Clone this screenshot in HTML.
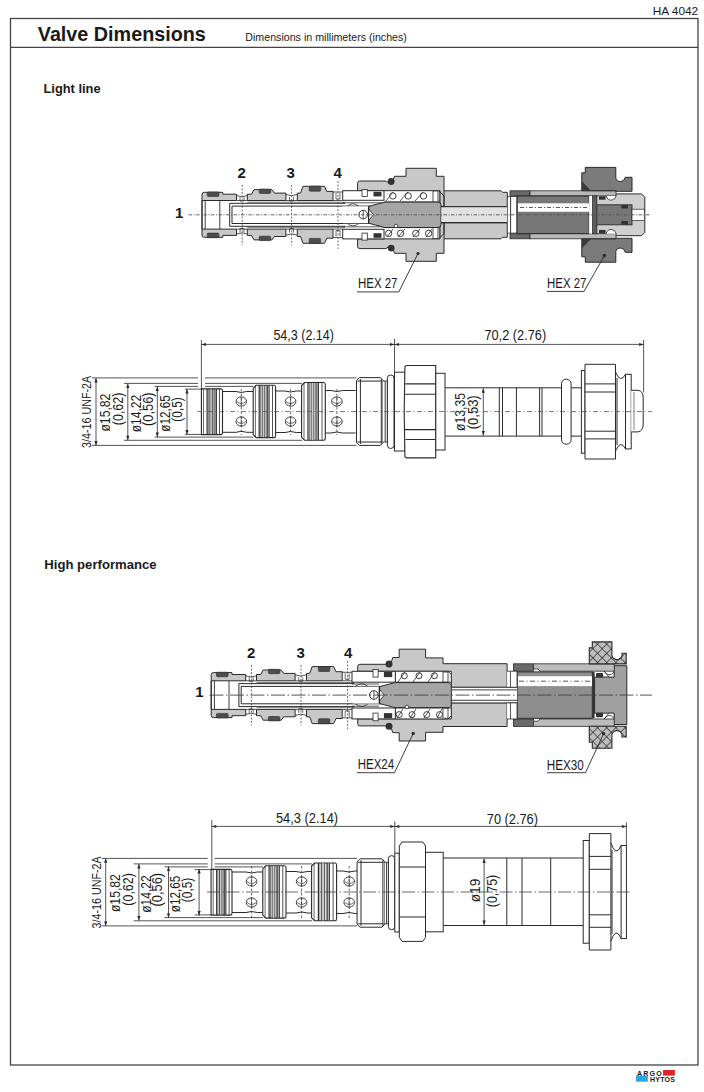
<!DOCTYPE html>
<html><head><meta charset="utf-8">
<style>
html,body{margin:0;padding:0;background:#fff;width:704px;height:1092px;overflow:hidden}
svg{position:absolute;left:0;top:0;display:block}
text{font-family:"Liberation Sans",sans-serif;fill:#1a1a1a}
</style></head><body>
<svg width="704" height="1092" viewBox="0 0 704 1092">
<!-- frame -->
<rect x="10.5" y="18.5" width="687.5" height="1046.5" fill="none" stroke="#444" stroke-width="1.3"/>
<line x1="10" y1="47.3" x2="698" y2="47.3" stroke="#444" stroke-width="1.3"/>
<text x="652.8" y="14.9" font-size="11" textLength="45.4" lengthAdjust="spacingAndGlyphs">HA 4042</text>
<text x="37.8" y="40.9" font-size="20" font-weight="bold" textLength="168" lengthAdjust="spacingAndGlyphs">Valve Dimensions</text>
<text x="245.3" y="41.25" font-size="11" textLength="161.6" lengthAdjust="spacingAndGlyphs">Dimensions in millimeters (inches)</text>
<text x="43.5" y="92.9" font-size="12.5" font-weight="bold" textLength="57.1" lengthAdjust="spacingAndGlyphs">Light line</text>
<text x="44.3" y="568.9" font-size="12.5" font-weight="bold" textLength="112.3" lengthAdjust="spacingAndGlyphs">High performance</text>
<!-- ===== D1 cross-section (light line) ===== -->
<g id="d1left">
 <!-- top half of left cartridge, mirrored below -->
 <g id="d1lt">
  <!-- collar -->
  <path d="M202,214.8 V194.5 Q202,192.3 204.2,192.3 H222.8 V194.2 H236.5 V200.5 H202 Z" fill="#c8c8c8" stroke="#2a2a2a" stroke-width="1"/>
  <rect x="207.3" y="191.9" width="11.6" height="4.6" rx="1" fill="#4d4d4d" stroke="#2a2a2a" stroke-width="0.6"/>
  <!-- section 3 -->
  <path d="M247.3,200.5 V194.2 H251.5 L254,189.7 H272 L274.5,193.1 H285.9 V200.5 Z" fill="#c8c8c8" stroke="#2a2a2a" stroke-width="1"/>
  <rect x="259.2" y="189" width="11.4" height="4.4" rx="1" fill="#4d4d4d" stroke="#2a2a2a" stroke-width="0.6"/>
  <!-- section 4 -->
  <path d="M297.3,200.5 V193.1 H300.5 L303,186.3 H324.5 L326.8,191.4 H333 V200.5 Z" fill="#c8c8c8" stroke="#2a2a2a" stroke-width="1"/>
  <rect x="309.2" y="186.2" width="11.4" height="5" rx="1" fill="#4d4d4d" stroke="#2a2a2a" stroke-width="0.6"/>
  <!-- ports (white notches) -->
  <path d="M236.5,195.5 Q242,198 247.3,195.5 M236.5,200.5 H247.3 M285.9,194.5 Q291.6,197 297.3,194.5 M285.9,200.5 H297.3 M333,192 H342.7 M333,200.5 H342.7" fill="none" stroke="#2a2a2a" stroke-width="0.8"/>
  <path d="M240,197 V201 H244 V197 M289.5,197 V201 H293.5 V197 M336,193 V199 H340 V193" fill="none" stroke="#2a2a2a" stroke-width="0.7"/>
  <!-- inner lines -->
  <line x1="205.2" y1="200.5" x2="205.2" y2="214.8" stroke="#2a2a2a" stroke-width="0.9"/>
  <line x1="219.8" y1="200.5" x2="219.8" y2="214.8" stroke="#2a2a2a" stroke-width="0.9"/>
  <path d="M229.7,214.8 V203.3 H345" fill="none" stroke="#2a2a2a" stroke-width="1"/>
  <path d="M232,214.8 V206.1 H372" fill="none" stroke="#2a2a2a" stroke-width="1"/>
  <line x1="247.3" y1="202.2" x2="345" y2="202.2" stroke="#2a2a2a" stroke-width="0.6"/>
 </g>
 <use href="#d1lt" transform="translate(0,429.6) scale(1,-1)"/>
</g>
<g id="d1right">
 <path d="M596.5,193.9 H641.5 L644.8,197.2 V232.4 L641.5,235.7 H596.5 Z" fill="#cfcfcf" stroke="#2a2a2a" stroke-width="1"/>
 <rect x="596.5" y="204.8" width="35.5" height="20" fill="#777" stroke="#2a2a2a" stroke-width="0.9"/>
 <rect x="621.5" y="205.5" width="6.5" height="3" fill="#333"/>
 <rect x="621.5" y="221" width="6.5" height="3" fill="#333"/>
 <rect x="632" y="209.2" width="12.3" height="11.2" fill="#fff" stroke="#2a2a2a" stroke-width="0.7"/>
 <g id="d1rt">
  <!-- tube light -->
  <path d="M444,190.8 H501 L502.5,192.3 H507.3 V206.7 H440 V190.8 Z" fill="#c8c8c8" stroke="#2a2a2a" stroke-width="1"/>
  <!-- hex body -->
  <path d="M357.6,190.7 V183.2 Q357.6,181 359.8,181 H386 Q391.7,187 394.5,176.3 H406 V168.3 H436.3 V176.3 H444 V206.7 H440 V190.7 Z" fill="#c8c8c8" stroke="#2a2a2a" stroke-width="1"/>
  <circle cx="391.2" cy="181.5" r="3.4" fill="#333"/>
  <!-- retainer sleeve -->
  <rect x="342.7" y="190.7" width="41.3" height="9.6" fill="#fff" stroke="#2a2a2a" stroke-width="1"/>
  <rect x="362" y="189.5" width="5.3" height="7" fill="#fff" stroke="#2a2a2a" stroke-width="0.8"/>
  <rect x="373.5" y="191.8" width="8" height="4.6" fill="#333"/>
  <path d="M342.7,202.8 H384 M347,206.4 Q353,201 359,206.4" fill="none" stroke="#2a2a2a" stroke-width="0.8"/>
  <!-- spring chamber -->
  <line x1="384" y1="202" x2="440" y2="202" stroke="#2a2a2a" stroke-width="0.8"/>
  <rect x="433" y="191" width="5" height="11" fill="#fff" stroke="#2a2a2a" stroke-width="0.8"/>
  <!-- bands -->
  <rect x="510" y="190.8" width="20" height="5.1" fill="#6a6a6a" stroke="#2a2a2a" stroke-width="0.8"/>
  <rect x="530" y="190.8" width="86" height="5.1" fill="#b8b8b8" stroke="#2a2a2a" stroke-width="0.8"/>
  <rect x="599" y="196.3" width="6.5" height="3.4" fill="#333"/>
  <path d="M606,195.9 Q608,201 612,200 Q616,199 616,195.9" fill="#fff" stroke="#2a2a2a" stroke-width="0.8"/>
  <rect x="621.5" y="205" width="6.5" height="3" fill="#333"/>
  <!-- nut -->
  <path d="M581.8,190.7 V172.8 H585.3 V167.4 H615.8 V178 A4.8,4.8 0 0 0 625.2,177.3 H632 V191.3 H616 V190.7 Z" fill="#7b7b7b" stroke="#2a2a2a" stroke-width="1"/>
  <path d="M581.8,181 V190.7 H591 Z" fill="#3a3a3a"/>
 </g>
 <use href="#d1rt" transform="translate(0,429.6) scale(1,-1)"/>
 <!-- full (non-mirrored) pieces -->
 <rect x="507.3" y="196.5" width="3.4" height="36.6" fill="#fff" stroke="#2a2a2a" stroke-width="0.7"/>
 <rect x="510.7" y="196.5" width="6.3" height="36.6" fill="#fff" stroke="#2a2a2a" stroke-width="0.8"/>
 <rect x="517" y="196" width="72.2" height="37.6" fill="#777" stroke="#2a2a2a" stroke-width="1"/>
 <rect x="518" y="203.3" width="71" height="8.5" fill="#fff"/>
 <rect x="589.2" y="196" width="3.2" height="37.6" fill="#fff"/>
 <rect x="592.4" y="195.8" width="4.5" height="38" fill="#5e5e5e" stroke="#2a2a2a" stroke-width="0.7"/>
 <!-- ball holder + piston -->
 <rect x="342.7" y="206.4" width="25.9" height="16.8" fill="#fff"/>
 <path d="M368.6,206.4 L384.8,202.1 H438 Q441,202.1 441,205 V224.6 Q441,227.5 438,227.5 H384.8 L368.6,223.2 Z" fill="#a6a6a6" stroke="#2a2a2a" stroke-width="1"/>
 <path d="M368.6,208.8 L373.4,214.8 L368.6,220.6" fill="#fff" stroke="#2a2a2a" stroke-width="0.8"/>
 <line x1="368.6" y1="206.4" x2="368.6" y2="223.2" stroke="#2a2a2a" stroke-width="1.3"/>
 <circle cx="363.2" cy="214.6" r="4.3" fill="#fff" stroke="#2a2a2a" stroke-width="1"/>
 <line x1="363.2" y1="211" x2="363.2" y2="218.4" stroke="#2a2a2a" stroke-width="0.8"/>
 <!-- bore -->
 <rect x="441.5" y="207.2" width="65.5" height="14.6" fill="#e2e2e2"/>
 <path d="M441,206.7 H507.3 M441,222.5 H507.3" stroke="#2a2a2a" stroke-width="1" fill="none"/>
 <path d="M439.1,191 L444,196 V206.7 M439.1,238.5 L444,233.5 V222.5" stroke="#2a2a2a" stroke-width="1" fill="none"/>
 <!-- springs -->
 <g fill="#fff" stroke="#2a2a2a" stroke-width="0.9">
   <circle cx="388.6" cy="233.4" r="3.2"/><circle cx="400.5" cy="233.4" r="3.2"/><circle cx="415.8" cy="233.4" r="3.2"/><circle cx="428.6" cy="233.4" r="3.2"/>
   <circle cx="392.8" cy="195.9" r="3.2"/><circle cx="408.2" cy="195.9" r="3.2"/><circle cx="423.5" cy="195.9" r="3.2"/>
 </g>
 <path d="M386,201 L393,192 M400,201 L408,192 M415,201 L423,192 M387,237 L393,229 M398,237 L405,229 M413,237 L420,229 M426,237 L432,229" stroke="#2a2a2a" stroke-width="0.8" fill="none"/>
 <circle cx="396" cy="226" r="1.8" fill="#fff" stroke="#2a2a2a" stroke-width="0.8"/>
</g>
<!-- center line d1 -->
<line x1="188.5" y1="214.8" x2="650" y2="214.8" stroke="#555" stroke-width="0.9" stroke-dasharray="3.5 1.5 1 1.5"/>
<line x1="520" y1="207.5" x2="589" y2="207.5" stroke="#444" stroke-width="0.9" stroke-dasharray="4 2 1 2"/>
<!-- port dashed lines -->
<g stroke="#444" stroke-width="0.8" stroke-dasharray="2 1.5">
 <line x1="242.2" y1="184.9" x2="242.2" y2="245.2"/>
 <line x1="291.6" y1="184.9" x2="291.6" y2="245.2"/>
 <line x1="338" y1="181" x2="338" y2="249"/>
</g>
<!-- labels -->
<g font-weight="bold" font-size="15">
 <text x="175" y="217.8">1</text>
 <text x="237.6" y="177.9">2</text>
 <text x="286.6" y="177.9">3</text>
 <text x="333.5" y="177.9">4</text>
</g>
<!-- HEX labels -->
<text x="358" y="288" font-size="14.3" textLength="39.5" lengthAdjust="spacingAndGlyphs">HEX 27</text>
<path d="M357,291.9 H398.8 L418,253.5" fill="none" stroke="#2a2a2a" stroke-width="0.9"/>
<circle cx="418" cy="253.5" r="1.6" fill="#2a2a2a"/>
<text x="547" y="288" font-size="14.3" textLength="39.5" lengthAdjust="spacingAndGlyphs">HEX 27</text>
<path d="M547,291.4 H584 L604.4,255.6" fill="none" stroke="#2a2a2a" stroke-width="0.9"/>
<circle cx="604.4" cy="255.6" r="1.8" fill="#2a2a2a"/>
<!-- ===== D2 ===== -->
<line x1="92" y1="377.9" x2="198" y2="377.9" stroke="#2a2a2a" stroke-width="0.8"/><line x1="205" y1="377.9" x2="356.5" y2="377.9" stroke="#2a2a2a" stroke-width="0.8"/>
<line x1="124" y1="383.4" x2="198" y2="383.4" stroke="#2a2a2a" stroke-width="0.8"/><line x1="205" y1="383.4" x2="302" y2="383.4" stroke="#2a2a2a" stroke-width="0.8"/>
<line x1="154.7" y1="386.4" x2="198" y2="386.4" stroke="#2a2a2a" stroke-width="0.8"/><line x1="205" y1="386.4" x2="253.5" y2="386.4" stroke="#2a2a2a" stroke-width="0.8"/>
<line x1="92" y1="445.4" x2="356.5" y2="445.4" stroke="#2a2a2a" stroke-width="0.8"/>
<line x1="124" y1="440.3" x2="302" y2="440.3" stroke="#2a2a2a" stroke-width="0.8"/>
<line x1="154.7" y1="437.1" x2="253.5" y2="437.1" stroke="#2a2a2a" stroke-width="0.8"/>
<line x1="185" y1="389.1" x2="201.4" y2="389.1" stroke="#2a2a2a" stroke-width="0.8"/><line x1="185" y1="434.4" x2="201.4" y2="434.4" stroke="#2a2a2a" stroke-width="0.8"/>
<line x1="96" y1="377.9" x2="96" y2="445.4" stroke="#2a2a2a" stroke-width="0.8"/><path d="M96,377.9 L94.4,382.4 L97.6,382.4 Z M96,445.4 L94.4,440.9 L97.6,440.9 Z" fill="#2a2a2a"/>
<line x1="127.8" y1="383.4" x2="127.8" y2="440.3" stroke="#2a2a2a" stroke-width="0.8"/><path d="M127.8,383.4 L126.2,387.9 L129.4,387.9 Z M127.8,440.3 L126.2,435.8 L129.4,435.8 Z" fill="#2a2a2a"/>
<line x1="157.3" y1="386.4" x2="157.3" y2="437.1" stroke="#2a2a2a" stroke-width="0.8"/><path d="M157.3,386.4 L155.70000000000002,390.9 L158.9,390.9 Z M157.3,437.1 L155.70000000000002,432.6 L158.9,432.6 Z" fill="#2a2a2a"/>
<line x1="187" y1="389.1" x2="187" y2="434.4" stroke="#2a2a2a" stroke-width="0.8"/><path d="M187,389.1 L185.4,393.6 L188.6,393.6 Z M187,434.4 L185.4,429.9 L188.6,429.9 Z" fill="#2a2a2a"/>
<text transform="translate(91.4,411.9) rotate(-90)" font-size="13.3" text-anchor="middle" textLength="72" lengthAdjust="spacingAndGlyphs">3/4-16 UNF-2A</text>
<text transform="translate(110.2,412.6) rotate(-90)" font-size="14.8" text-anchor="middle" textLength="38" lengthAdjust="spacingAndGlyphs">ø15,82</text>
<text transform="translate(123.3,408.9) rotate(-90)" font-size="14.8" text-anchor="middle" textLength="32.5" lengthAdjust="spacingAndGlyphs">(0,62)</text>
<text transform="translate(141,413.6) rotate(-90)" font-size="14.8" text-anchor="middle" textLength="37.5" lengthAdjust="spacingAndGlyphs">ø14,22</text>
<text transform="translate(152.7,409.2) rotate(-90)" font-size="14.8" text-anchor="middle" textLength="33.5" lengthAdjust="spacingAndGlyphs">(0,56)</text>
<text transform="translate(169.8,413.5) rotate(-90)" font-size="14.8" text-anchor="middle" textLength="36.5" lengthAdjust="spacingAndGlyphs">ø12,65</text>
<text transform="translate(182.1,409.4) rotate(-90)" font-size="14.8" text-anchor="middle" textLength="24.5" lengthAdjust="spacingAndGlyphs">(0,5)</text>
<line x1="201.4" y1="340" x2="201.4" y2="389" stroke="#2a2a2a" stroke-width="0.8"/>
<line x1="394.5" y1="338.8" x2="394.5" y2="372.2" stroke="#2a2a2a" stroke-width="0.8"/>
<line x1="643.6" y1="340" x2="643.6" y2="392.4" stroke="#2a2a2a" stroke-width="0.8"/>
<line x1="201.4" y1="344.4" x2="394.5" y2="344.4" stroke="#2a2a2a" stroke-width="0.8"/><path d="M201.4,344.4 L205.9,342.9 L205.9,345.9 Z M394.5,344.4 L390.0,342.9 L390.0,345.9 Z" fill="#2a2a2a"/>
<line x1="394.5" y1="344.4" x2="643.6" y2="344.4" stroke="#2a2a2a" stroke-width="0.8"/><path d="M394.5,344.4 L399.0,342.9 L399.0,345.9 Z M643.6,344.4 L639.1,342.9 L639.1,345.9 Z" fill="#2a2a2a"/>
<text x="273.4" y="339.8" font-size="14" textLength="60.5" lengthAdjust="spacingAndGlyphs">54,3 (2.14)</text>
<text x="484.4" y="339.6" font-size="14" textLength="61.8" lengthAdjust="spacingAndGlyphs">70,2 (2.76)</text>
<path d="M222.5,391.5 H236 Q241.3,393.5 246.6,391.5 H253.2 M222.5,432.3 H236 Q241.3,430.3 246.6,432.3 H253.2" fill="none" stroke="#2a2a2a" stroke-width="1"/>
<path d="M275.6,391 H285 Q290.6,393 296.2,391 H301.6 M275.6,432.5 H285 Q290.6,430.5 296.2,432.5 H301.6" fill="none" stroke="#2a2a2a" stroke-width="1"/>
<path d="M325.3,390.5 H331 Q336.9,392.5 342.8,390.5 H355.6 M325.3,433 H331 Q336.9,431 342.8,433 H355.6" fill="none" stroke="#2a2a2a" stroke-width="1"/>
<path d="M201.4,388.9 L201.4,388.9 H221.0 Q222.5,388.9 222.5,390.9 V432.6 Q222.5,434.6 221.0,434.6 H201.4 L201.4,434.6 Z" fill="#fff" stroke="#2a2a2a" stroke-width="1.1"/><rect x="209.8" y="389.4" width="2.5" height="44.700000000000045" fill="#cdcdcd"/><rect x="214.9" y="389.4" width="1.5" height="44.700000000000045" fill="#cdcdcd"/><line x1="203.5" y1="388.9" x2="203.5" y2="434.6" stroke="#2a2a2a" stroke-width="0.7"/><line x1="207.1" y1="388.9" x2="207.1" y2="434.6" stroke="#2a2a2a" stroke-width="1.2"/><line x1="208.4" y1="388.9" x2="208.4" y2="434.6" stroke="#2a2a2a" stroke-width="0.6"/><line x1="209.8" y1="388.9" x2="209.8" y2="434.6" stroke="#2a2a2a" stroke-width="0.8"/><line x1="212.4" y1="388.9" x2="212.4" y2="434.6" stroke="#2a2a2a" stroke-width="0.8"/><line x1="213.8" y1="388.9" x2="213.8" y2="434.6" stroke="#2a2a2a" stroke-width="0.6"/><line x1="214.9" y1="388.9" x2="214.9" y2="434.6" stroke="#2a2a2a" stroke-width="0.8"/><line x1="216.4" y1="388.9" x2="216.4" y2="434.6" stroke="#2a2a2a" stroke-width="1.0"/><line x1="219.5" y1="388.9" x2="219.5" y2="434.6" stroke="#2a2a2a" stroke-width="0.8"/>
<path d="M253.2,388.3 L256.2,385.3 H274.1 Q275.6,385.3 275.6,387.3 V435.6 Q275.6,437.6 274.1,437.6 H256.2 L253.2,434.6 Z" fill="#fff" stroke="#2a2a2a" stroke-width="1.1"/><rect x="262.2" y="385.8" width="2.7" height="51.30000000000001" fill="#cdcdcd"/><rect x="267.5" y="385.8" width="1.6" height="51.30000000000001" fill="#cdcdcd"/><line x1="255.4" y1="385.3" x2="255.4" y2="437.6" stroke="#2a2a2a" stroke-width="0.7"/><line x1="259.2" y1="385.3" x2="259.2" y2="437.6" stroke="#2a2a2a" stroke-width="1.2"/><line x1="260.6" y1="385.3" x2="260.6" y2="437.6" stroke="#2a2a2a" stroke-width="0.6"/><line x1="262.2" y1="385.3" x2="262.2" y2="437.6" stroke="#2a2a2a" stroke-width="0.8"/><line x1="264.8" y1="385.3" x2="264.8" y2="437.6" stroke="#2a2a2a" stroke-width="0.8"/><line x1="266.4" y1="385.3" x2="266.4" y2="437.6" stroke="#2a2a2a" stroke-width="0.6"/><line x1="267.5" y1="385.3" x2="267.5" y2="437.6" stroke="#2a2a2a" stroke-width="0.8"/><line x1="269.1" y1="385.3" x2="269.1" y2="437.6" stroke="#2a2a2a" stroke-width="1.0"/><line x1="272.5" y1="385.3" x2="272.5" y2="437.6" stroke="#2a2a2a" stroke-width="0.8"/>
<path d="M301.6,385.5 L304.6,382.5 H323.8 Q325.3,382.5 325.3,384.5 V438.3 Q325.3,440.3 323.8,440.3 H304.6 L301.6,437.3 Z" fill="#fff" stroke="#2a2a2a" stroke-width="1.1"/><rect x="311.1" y="383.0" width="2.8" height="56.80000000000001" fill="#cdcdcd"/><rect x="316.8" y="383.0" width="1.7" height="56.80000000000001" fill="#cdcdcd"/><line x1="304.0" y1="382.5" x2="304.0" y2="440.3" stroke="#2a2a2a" stroke-width="0.7"/><line x1="308.0" y1="382.5" x2="308.0" y2="440.3" stroke="#2a2a2a" stroke-width="1.2"/><line x1="309.4" y1="382.5" x2="309.4" y2="440.3" stroke="#2a2a2a" stroke-width="0.6"/><line x1="311.1" y1="382.5" x2="311.1" y2="440.3" stroke="#2a2a2a" stroke-width="0.8"/><line x1="313.9" y1="382.5" x2="313.9" y2="440.3" stroke="#2a2a2a" stroke-width="0.8"/><line x1="315.6" y1="382.5" x2="315.6" y2="440.3" stroke="#2a2a2a" stroke-width="0.6"/><line x1="316.8" y1="382.5" x2="316.8" y2="440.3" stroke="#2a2a2a" stroke-width="0.8"/><line x1="318.4" y1="382.5" x2="318.4" y2="440.3" stroke="#2a2a2a" stroke-width="1.0"/><line x1="322.0" y1="382.5" x2="322.0" y2="440.3" stroke="#2a2a2a" stroke-width="0.8"/>
<ellipse cx="241.3" cy="401.5" rx="5.3" ry="4.6" fill="#fff" stroke="#2a2a2a" stroke-width="0.9"/><path d="M236.8,401.5 Q241.3,405.5 245.8,401.5" fill="none" stroke="#2a2a2a" stroke-width="0.7"/><line x1="241.3" y1="396.5" x2="241.3" y2="406.5" stroke="#2a2a2a" stroke-width="0.6"/>
<ellipse cx="241.3" cy="421.5" rx="5.3" ry="4.6" fill="#fff" stroke="#2a2a2a" stroke-width="0.9"/><path d="M236.8,421.5 Q241.3,425.5 245.8,421.5" fill="none" stroke="#2a2a2a" stroke-width="0.7"/><line x1="241.3" y1="416.5" x2="241.3" y2="426.5" stroke="#2a2a2a" stroke-width="0.6"/>
<line x1="241.3" y1="389" x2="241.3" y2="435" stroke="#2a2a2a" stroke-width="0.7" stroke-dasharray="2.5 2"/>
<ellipse cx="290.6" cy="401.5" rx="5.3" ry="4.6" fill="#fff" stroke="#2a2a2a" stroke-width="0.9"/><path d="M286.1,401.5 Q290.6,405.5 295.1,401.5" fill="none" stroke="#2a2a2a" stroke-width="0.7"/><line x1="290.6" y1="396.5" x2="290.6" y2="406.5" stroke="#2a2a2a" stroke-width="0.6"/>
<ellipse cx="290.6" cy="421.5" rx="5.3" ry="4.6" fill="#fff" stroke="#2a2a2a" stroke-width="0.9"/><path d="M286.1,421.5 Q290.6,425.5 295.1,421.5" fill="none" stroke="#2a2a2a" stroke-width="0.7"/><line x1="290.6" y1="416.5" x2="290.6" y2="426.5" stroke="#2a2a2a" stroke-width="0.6"/>
<line x1="290.6" y1="389" x2="290.6" y2="435" stroke="#2a2a2a" stroke-width="0.7" stroke-dasharray="2.5 2"/>
<ellipse cx="336.9" cy="401.5" rx="5.3" ry="4.6" fill="#fff" stroke="#2a2a2a" stroke-width="0.9"/><path d="M332.4,401.5 Q336.9,405.5 341.4,401.5" fill="none" stroke="#2a2a2a" stroke-width="0.7"/><line x1="336.9" y1="396.5" x2="336.9" y2="406.5" stroke="#2a2a2a" stroke-width="0.6"/>
<ellipse cx="336.9" cy="421.5" rx="5.3" ry="4.6" fill="#fff" stroke="#2a2a2a" stroke-width="0.9"/><path d="M332.4,421.5 Q336.9,425.5 341.4,421.5" fill="none" stroke="#2a2a2a" stroke-width="0.7"/><line x1="336.9" y1="416.5" x2="336.9" y2="426.5" stroke="#2a2a2a" stroke-width="0.6"/>
<line x1="336.9" y1="389" x2="336.9" y2="435" stroke="#2a2a2a" stroke-width="0.7" stroke-dasharray="2.5 2"/>
<path d="M359.5,377.6 H380.5 L383,380.5 V442.5 L380.5,445.4 H359.5 L356.5,442.5 V380.5 Z M360.4,379 V444 M381.3,379 V444 M357.5,381.1 H382 M357.5,442 H382" fill="#fff" stroke="#2a2a2a" stroke-width="1"/>
<path d="M383,381 H387.4 V442 H383 M385.2,381 V442" fill="#fff" stroke="#2a2a2a" stroke-width="0.9"/>
<rect x="387.4" y="375" width="6.6" height="73.5" rx="3.2" fill="#fff" stroke="#2a2a2a" stroke-width="1"/>
<rect x="394.5" y="372.2" width="10.6" height="78.8" fill="#fff" stroke="#2a2a2a" stroke-width="1"/>
<path d="M407,365.5 H435.7 V457.9 H407 Q404.9,457.9 404.9,455.8 Q403.5,411.7 404.9,367.6 Q404.9,365.5 407,365.5 Z M405.5,383.9 H435.7 M405,394.3 H435.7 M405,429.6 H435.7 M405.5,439.5 H435.7" fill="#fff" stroke="#2a2a2a" stroke-width="1.1"/>
<rect x="435.8" y="373.3" width="9.2" height="76.7" fill="#fff" stroke="#2a2a2a" stroke-width="1"/>
<path d="M445,387.8 H561.5 M445,436.1 H561.5 M499.3,387.8 V436.1 M502.5,387.8 V436.1 M516.4,387.8 V436.1 M539.6,387.8 V436.1 M542,387.8 V436.1" fill="none" stroke="#2a2a2a" stroke-width="1"/>
<line x1="483.3" y1="388.3" x2="483.3" y2="435.6" stroke="#2a2a2a" stroke-width="0.8"/><path d="M483.3,388.3 L481.7,392.8 L484.90000000000003,392.8 Z M483.3,435.6 L481.7,431.1 L484.90000000000003,431.1 Z" fill="#2a2a2a"/>
<text transform="translate(465,412) rotate(-90)" font-size="14.8" text-anchor="middle" textLength="38" lengthAdjust="spacingAndGlyphs">ø13,35</text>
<text transform="translate(478.4,412.3) rotate(-90)" font-size="14.8" text-anchor="middle" textLength="34" lengthAdjust="spacingAndGlyphs">(0,53)</text>
<rect x="561.5" y="379.2" width="9.6" height="65" rx="4.5" fill="#fff" stroke="#2a2a2a" stroke-width="1"/>
<path d="M571.1,387.8 H581.4 M571.1,436.1 H581.4" fill="none" stroke="#2a2a2a" stroke-width="1"/>
<rect x="581.4" y="370.5" width="3.6" height="82.7" fill="#fff" stroke="#2a2a2a" stroke-width="1"/>
<path d="M585,364.3 H615.5 V459 H585 Z M585,383.9 H615.5 M585,392 H615.5 M585,431.2 H615.5 M585,438.9 H615.5" fill="#fff" stroke="#2a2a2a" stroke-width="1"/>
<path d="M615.5,372 Q620.5,384 625.5,374.3 M615.5,451 Q620.5,439 625.5,448.9 M617,378 V445" fill="none" stroke="#2a2a2a" stroke-width="1"/>
<rect x="625.5" y="374.3" width="5.7" height="74.6" fill="#fff" stroke="#2a2a2a" stroke-width="1"/>
<path d="M631.2,390.3 H638 Q643.2,391 643.2,398 V424 Q643.2,431 638,431.9 H631.2" fill="#fff" stroke="#2a2a2a" stroke-width="1"/>
<line x1="634" y1="392" x2="634" y2="430" stroke="#2a2a2a" stroke-width="0.6"/>
<line x1="197" y1="411.6" x2="652" y2="411.6" stroke="#555" stroke-width="0.8" stroke-dasharray="5 2.5 1 2.5"/>
<!-- ===== D3 ===== -->
<defs><pattern id="xh" patternUnits="userSpaceOnUse" width="6.5" height="6.5" patternTransform="rotate(45)"><rect width="6.5" height="6.5" fill="#bdbdbd"/><path d="M0,0 H6.5 M0,0 V6.5" stroke="#2a2a2a" stroke-width="1.3"/></pattern></defs>
<use href="#d1left" transform="translate(9.2,480.3)"/>
<rect x="517" y="671.9" width="75.3" height="46.4" fill="#8e8e8e" stroke="#2a2a2a" stroke-width="1"/>
<rect x="592.3" y="671.9" width="2.3" height="46.4" fill="#333"/>
<path d="M594.6,677 H614 V665.7 H626.8 V724.5 H614 V713.2 H594.6 Z" fill="#a0a0a0" stroke="#2a2a2a" stroke-width="1"/>
<g id="d3rt"><path d="M507.1,663.7 V687.3 H451.3 V671.3 H357.7 V666.5 Q357.7,664.3 359.9,664.3 H386 Q389.5,669.5 392.8,657.5 H399.2 V649.2 H425.6 V657.9 H443 V663.7 Z" fill="#c8c8c8" stroke="#2a2a2a" stroke-width="1"/><circle cx="389" cy="663.9" r="3.5" fill="#333"/><rect x="352" y="671.3" width="43.4" height="10.9" fill="#fff" stroke="#2a2a2a" stroke-width="1"/><rect x="373" y="669.4" width="5.1" height="7.7" fill="#fff" stroke="#2a2a2a" stroke-width="0.8"/><rect x="383.9" y="672" width="8.3" height="5.1" fill="#333"/><path d="M352,684 H379 M355,686.5 Q362,681 368,686.5" fill="none" stroke="#2a2a2a" stroke-width="0.8"/><path d="M395.4,671.3 H448 L451.3,674.5 V682.2 H395.4 Z" fill="#fff" stroke="#2a2a2a" stroke-width="0.9"/><rect x="443" y="672" width="5" height="10" fill="#fff" stroke="#2a2a2a" stroke-width="0.8"/><rect x="451.3" y="687.3" width="65.7" height="7.8" fill="#fff"/><path d="M451.3,687.3 H517 M451.3,689.9 H517" fill="none" stroke="#2a2a2a" stroke-width="0.9"/><rect x="513.5" y="663.8" width="19.9" height="7.4" fill="#6a6a6a" stroke="#2a2a2a" stroke-width="0.8"/><path d="M533.4,663.8 H614.3 V671.2 H540 L538,669 H533.4 Z" fill="#bcbcbc" stroke="#2a2a2a" stroke-width="0.8"/><path d="M507.1,671.2 H517 V687.3 H507.1 M510.5,671.2 V687.3" fill="#fff" stroke="#2a2a2a" stroke-width="0.8"/><rect x="596" y="673" width="7" height="4.5" rx="1" fill="#333"/><path d="M604,671 Q609,678 614,672 V677 H609 Z" fill="#fff" stroke="#2a2a2a" stroke-width="0.8"/><path d="M589.3,663.9 V647.9 H592.3 V641.9 H611.9 V655.6 A5.1,5.1 0 0 0 622,653.2 H626.2 V663.9 Z" fill="url(#xh)" stroke="#2a2a2a" stroke-width="1.1"/></g>
<use href="#d3rt" transform="translate(0,1390.2) scale(1,-1)"/>
<rect x="518" y="676.2" width="74" height="9.9" fill="#fff"/>
<line x1="519" y1="681.2" x2="592" y2="681.2" stroke="#444" stroke-width="0.9" stroke-dasharray="5 2.5 1 2.5"/>
<rect x="353" y="686.7" width="26.4" height="16.8" fill="#fff"/>
<path d="M379.4,686.7 L395,682.6 H449 L451.3,685 V705.2 L449,707.6 H395 L379.4,703.5 Z" fill="#a6a6a6" stroke="#2a2a2a" stroke-width="1"/>
<path d="M379.4,689.1 L384.2,695.1 L379.4,701.1" fill="#fff" stroke="#2a2a2a" stroke-width="0.8"/>
<line x1="379.4" y1="686.7" x2="379.4" y2="703.5" stroke="#2a2a2a" stroke-width="1.3"/>
<circle cx="373.9" cy="695" r="4.3" fill="#fff" stroke="#2a2a2a" stroke-width="1"/>
<line x1="373.9" y1="691.3" x2="373.9" y2="698.7" stroke="#2a2a2a" stroke-width="0.8"/>
<g fill="#fff" stroke="#2a2a2a" stroke-width="0.9"><circle cx="404.3" cy="675.8" r="3"/><circle cx="419" cy="675.8" r="3"/><circle cx="434.4" cy="675.8" r="3"/><circle cx="399.2" cy="714.6" r="3"/><circle cx="412" cy="714.6" r="3"/><circle cx="426.7" cy="714.6" r="3"/><circle cx="439.5" cy="714.6" r="3"/></g>
<path d="M398,682 L405,672 M413,682 L420,672 M428,682 L435,672 M397,718 L403,709 M410,718 L416,709 M424,718 L430,709 M437,718 L442,709" stroke="#2a2a2a" stroke-width="0.8" fill="none"/>
<circle cx="407" cy="707" r="1.8" fill="#fff" stroke="#2a2a2a" stroke-width="0.8"/>
<line x1="209.5" y1="695.1" x2="652" y2="695.1" stroke="#444" stroke-width="0.9" stroke-dasharray="14 2.5 1.5 2.5"/>
<g stroke="#444" stroke-width="0.8" stroke-dasharray="2 1.5"><line x1="251.4" y1="665" x2="251.4" y2="725.5"/><line x1="301" y1="665" x2="301" y2="725.5"/><line x1="347.6" y1="661" x2="347.6" y2="729"/></g>
<g font-weight="bold" font-size="15"><text x="195.3" y="697">1</text><text x="247.1" y="658">2</text><text x="296.6" y="658">3</text><text x="344.1" y="658">4</text></g>
<text x="357.7" y="768.6" font-size="14.3" textLength="36.5" lengthAdjust="spacingAndGlyphs">HEX24</text>
<path d="M357,772.7 H394.5 L413.2,733.4" fill="none" stroke="#2a2a2a" stroke-width="0.9"/><circle cx="413.2" cy="733.4" r="1.7" fill="#2a2a2a"/>
<text x="546.8" y="770" font-size="14.3" textLength="37" lengthAdjust="spacingAndGlyphs">HEX30</text>
<path d="M547,772.7 H585.5 L603.6,733.6" fill="none" stroke="#2a2a2a" stroke-width="0.9"/><circle cx="603.6" cy="733.6" r="1.7" fill="#2a2a2a"/>
<!-- ===== D4 ===== -->
<line x1="101.7" y1="858.4" x2="207.7" y2="858.4" stroke="#2a2a2a" stroke-width="0.8"/><line x1="214.7" y1="858.4" x2="357.1" y2="858.4" stroke="#2a2a2a" stroke-width="0.8"/>
<line x1="133.7" y1="863.9" x2="207.7" y2="863.9" stroke="#2a2a2a" stroke-width="0.8"/><line x1="214.7" y1="863.9" x2="312" y2="863.9" stroke="#2a2a2a" stroke-width="0.8"/>
<line x1="164.39999999999998" y1="866.9" x2="207.7" y2="866.9" stroke="#2a2a2a" stroke-width="0.8"/><line x1="214.7" y1="866.9" x2="263" y2="866.9" stroke="#2a2a2a" stroke-width="0.8"/>
<line x1="101.7" y1="925.9" x2="357.1" y2="925.9" stroke="#2a2a2a" stroke-width="0.8"/>
<line x1="133.7" y1="920.8" x2="312" y2="920.8" stroke="#2a2a2a" stroke-width="0.8"/>
<line x1="164.39999999999998" y1="917.6" x2="263" y2="917.6" stroke="#2a2a2a" stroke-width="0.8"/>
<line x1="194.7" y1="869.6" x2="211.1" y2="869.6" stroke="#2a2a2a" stroke-width="0.8"/><line x1="194.7" y1="914.9" x2="211.1" y2="914.9" stroke="#2a2a2a" stroke-width="0.8"/>
<line x1="105.7" y1="858.3" x2="105.7" y2="926.1" stroke="#2a2a2a" stroke-width="0.8"/><path d="M105.7,858.3 L104.10000000000001,862.8 L107.3,862.8 Z M105.7,926.1 L104.10000000000001,921.6 L107.3,921.6 Z" fill="#2a2a2a"/>
<line x1="138.9" y1="863.9" x2="138.9" y2="920.5" stroke="#2a2a2a" stroke-width="0.8"/><path d="M138.9,863.9 L137.3,868.4 L140.5,868.4 Z M138.9,920.5 L137.3,916.0 L140.5,916.0 Z" fill="#2a2a2a"/>
<line x1="168.5" y1="866.6" x2="168.5" y2="918" stroke="#2a2a2a" stroke-width="0.8"/><path d="M168.5,866.6 L166.9,871.1 L170.1,871.1 Z M168.5,918 L166.9,913.5 L170.1,913.5 Z" fill="#2a2a2a"/>
<line x1="199.1" y1="869" x2="199.1" y2="915.6" stroke="#2a2a2a" stroke-width="0.8"/><path d="M199.1,869 L197.5,873.5 L200.7,873.5 Z M199.1,915.6 L197.5,911.1 L200.7,911.1 Z" fill="#2a2a2a"/>
<text transform="translate(101.10000000000001,892.4) rotate(-90)" font-size="13.3" text-anchor="middle" textLength="72" lengthAdjust="spacingAndGlyphs">3/4-16 UNF-2A</text>
<text transform="translate(119.9,893.1) rotate(-90)" font-size="14.8" text-anchor="middle" textLength="38" lengthAdjust="spacingAndGlyphs">ø15,82</text>
<text transform="translate(133.0,889.4) rotate(-90)" font-size="14.8" text-anchor="middle" textLength="32.5" lengthAdjust="spacingAndGlyphs">(0,62)</text>
<text transform="translate(150.7,894.1) rotate(-90)" font-size="14.8" text-anchor="middle" textLength="37.5" lengthAdjust="spacingAndGlyphs">ø14,22</text>
<text transform="translate(162.39999999999998,889.7) rotate(-90)" font-size="14.8" text-anchor="middle" textLength="33.5" lengthAdjust="spacingAndGlyphs">(0,56)</text>
<text transform="translate(179.5,894.0) rotate(-90)" font-size="14.8" text-anchor="middle" textLength="36.5" lengthAdjust="spacingAndGlyphs">ø12,65</text>
<text transform="translate(191.79999999999998,889.9) rotate(-90)" font-size="14.8" text-anchor="middle" textLength="24.5" lengthAdjust="spacingAndGlyphs">(0,5)</text>
<line x1="211.8" y1="820" x2="211.8" y2="869.5" stroke="#2a2a2a" stroke-width="0.8"/>
<line x1="394.8" y1="821.5" x2="394.8" y2="853.4" stroke="#2a2a2a" stroke-width="0.8"/>
<line x1="626.4" y1="822.5" x2="626.4" y2="846" stroke="#2a2a2a" stroke-width="0.8"/>
<line x1="211.8" y1="826.4" x2="394.8" y2="826.4" stroke="#2a2a2a" stroke-width="0.8"/><path d="M211.8,826.4 L216.3,824.9 L216.3,827.9 Z M394.8,826.4 L390.3,824.9 L390.3,827.9 Z" fill="#2a2a2a"/>
<line x1="394.8" y1="826.4" x2="626.4" y2="826.4" stroke="#2a2a2a" stroke-width="0.8"/><path d="M394.8,826.4 L399.3,824.9 L399.3,827.9 Z M626.4,826.4 L621.9,824.9 L621.9,827.9 Z" fill="#2a2a2a"/>
<text x="275.9" y="823.4" font-size="14" textLength="62.2" lengthAdjust="spacingAndGlyphs">54,3 (2.14)</text>
<text x="486.8" y="823.9" font-size="14" textLength="51.2" lengthAdjust="spacingAndGlyphs">70 (2.76)</text>
<path d="M232,872 H246 Q251.6,874 257.2,872 H262.5 M232,912.5 H246 Q251.6,910.5 257.2,912.5 H262.5" fill="none" stroke="#2a2a2a" stroke-width="1"/>
<path d="M286,871.5 H296 Q301.6,873.5 307.2,871.5 H311.6 M286,913 H296 Q301.6,911 307.2,913 H311.6" fill="none" stroke="#2a2a2a" stroke-width="1"/>
<path d="M336.6,871 H343 Q349,873 355,871 H357.1 M336.6,913.5 H343 Q349,911.5 355,913.5 H357.1" fill="none" stroke="#2a2a2a" stroke-width="1"/>
<path d="M211.1,869.4 L211.1,869.4 H230.5 Q232,869.4 232,871.4 V913.1 Q232,915.1 230.5,915.1 H211.1 L211.1,915.1 Z" fill="#fff" stroke="#2a2a2a" stroke-width="1.1"/><rect x="219.5" y="869.9" width="2.5" height="44.700000000000045" fill="#cdcdcd"/><rect x="224.5" y="869.9" width="1.5" height="44.700000000000045" fill="#cdcdcd"/><line x1="213.2" y1="869.4" x2="213.2" y2="915.1" stroke="#2a2a2a" stroke-width="0.7"/><line x1="216.7" y1="869.4" x2="216.7" y2="915.1" stroke="#2a2a2a" stroke-width="1.2"/><line x1="218.0" y1="869.4" x2="218.0" y2="915.1" stroke="#2a2a2a" stroke-width="0.6"/><line x1="219.5" y1="869.4" x2="219.5" y2="915.1" stroke="#2a2a2a" stroke-width="0.8"/><line x1="222.0" y1="869.4" x2="222.0" y2="915.1" stroke="#2a2a2a" stroke-width="0.8"/><line x1="223.4" y1="869.4" x2="223.4" y2="915.1" stroke="#2a2a2a" stroke-width="0.6"/><line x1="224.5" y1="869.4" x2="224.5" y2="915.1" stroke="#2a2a2a" stroke-width="0.8"/><line x1="225.9" y1="869.4" x2="225.9" y2="915.1" stroke="#2a2a2a" stroke-width="1.0"/><line x1="229.1" y1="869.4" x2="229.1" y2="915.1" stroke="#2a2a2a" stroke-width="0.8"/>
<path d="M262.8,868.8 L265.8,865.8 H284.5 Q286,865.8 286,867.8 V916.1 Q286,918.1 284.5,918.1 H265.8 L262.8,915.1 Z" fill="#fff" stroke="#2a2a2a" stroke-width="1.1"/><rect x="272.1" y="866.3" width="2.8" height="51.30000000000007" fill="#cdcdcd"/><rect x="277.6" y="866.3" width="1.6" height="51.30000000000007" fill="#cdcdcd"/><line x1="265.1" y1="865.8" x2="265.1" y2="918.1" stroke="#2a2a2a" stroke-width="0.7"/><line x1="269.1" y1="865.8" x2="269.1" y2="918.1" stroke="#2a2a2a" stroke-width="1.2"/><line x1="270.5" y1="865.8" x2="270.5" y2="918.1" stroke="#2a2a2a" stroke-width="0.6"/><line x1="272.1" y1="865.8" x2="272.1" y2="918.1" stroke="#2a2a2a" stroke-width="0.8"/><line x1="274.9" y1="865.8" x2="274.9" y2="918.1" stroke="#2a2a2a" stroke-width="0.8"/><line x1="276.5" y1="865.8" x2="276.5" y2="918.1" stroke="#2a2a2a" stroke-width="0.6"/><line x1="277.6" y1="865.8" x2="277.6" y2="918.1" stroke="#2a2a2a" stroke-width="0.8"/><line x1="279.3" y1="865.8" x2="279.3" y2="918.1" stroke="#2a2a2a" stroke-width="1.0"/><line x1="282.8" y1="865.8" x2="282.8" y2="918.1" stroke="#2a2a2a" stroke-width="0.8"/>
<path d="M311.6,866 L314.6,863 H335.1 Q336.6,863 336.6,865 V918.8 Q336.6,920.8 335.1,920.8 H314.6 L311.6,917.8 Z" fill="#fff" stroke="#2a2a2a" stroke-width="1.1"/><rect x="321.6" y="863.5" width="3.0" height="56.799999999999955" fill="#cdcdcd"/><rect x="327.6" y="863.5" width="1.7" height="56.799999999999955" fill="#cdcdcd"/><line x1="314.1" y1="863" x2="314.1" y2="920.8" stroke="#2a2a2a" stroke-width="0.7"/><line x1="318.4" y1="863" x2="318.4" y2="920.8" stroke="#2a2a2a" stroke-width="1.2"/><line x1="319.9" y1="863" x2="319.9" y2="920.8" stroke="#2a2a2a" stroke-width="0.6"/><line x1="321.6" y1="863" x2="321.6" y2="920.8" stroke="#2a2a2a" stroke-width="0.8"/><line x1="324.6" y1="863" x2="324.6" y2="920.8" stroke="#2a2a2a" stroke-width="0.8"/><line x1="326.4" y1="863" x2="326.4" y2="920.8" stroke="#2a2a2a" stroke-width="0.6"/><line x1="327.6" y1="863" x2="327.6" y2="920.8" stroke="#2a2a2a" stroke-width="0.8"/><line x1="329.4" y1="863" x2="329.4" y2="920.8" stroke="#2a2a2a" stroke-width="1.0"/><line x1="333.1" y1="863" x2="333.1" y2="920.8" stroke="#2a2a2a" stroke-width="0.8"/>
<ellipse cx="251.6" cy="881.5" rx="5.3" ry="4.6" fill="#fff" stroke="#2a2a2a" stroke-width="0.9"/><path d="M247.1,881.5 Q251.6,885.5 256.1,881.5" fill="none" stroke="#2a2a2a" stroke-width="0.7"/><line x1="251.6" y1="876.5" x2="251.6" y2="886.5" stroke="#2a2a2a" stroke-width="0.6"/>
<ellipse cx="251.6" cy="902.5" rx="5.3" ry="4.6" fill="#fff" stroke="#2a2a2a" stroke-width="0.9"/><path d="M247.1,902.5 Q251.6,906.5 256.1,902.5" fill="none" stroke="#2a2a2a" stroke-width="0.7"/><line x1="251.6" y1="897.5" x2="251.6" y2="907.5" stroke="#2a2a2a" stroke-width="0.6"/>
<line x1="251.6" y1="866" x2="251.6" y2="919" stroke="#2a2a2a" stroke-width="0.7" stroke-dasharray="2.5 2"/>
<ellipse cx="301.6" cy="881.5" rx="5.3" ry="4.6" fill="#fff" stroke="#2a2a2a" stroke-width="0.9"/><path d="M297.1,881.5 Q301.6,885.5 306.1,881.5" fill="none" stroke="#2a2a2a" stroke-width="0.7"/><line x1="301.6" y1="876.5" x2="301.6" y2="886.5" stroke="#2a2a2a" stroke-width="0.6"/>
<ellipse cx="301.6" cy="902.5" rx="5.3" ry="4.6" fill="#fff" stroke="#2a2a2a" stroke-width="0.9"/><path d="M297.1,902.5 Q301.6,906.5 306.1,902.5" fill="none" stroke="#2a2a2a" stroke-width="0.7"/><line x1="301.6" y1="897.5" x2="301.6" y2="907.5" stroke="#2a2a2a" stroke-width="0.6"/>
<line x1="301.6" y1="866" x2="301.6" y2="919" stroke="#2a2a2a" stroke-width="0.7" stroke-dasharray="2.5 2"/>
<ellipse cx="349.2" cy="881.5" rx="5.3" ry="4.6" fill="#fff" stroke="#2a2a2a" stroke-width="0.9"/><path d="M344.7,881.5 Q349.2,885.5 353.7,881.5" fill="none" stroke="#2a2a2a" stroke-width="0.7"/><line x1="349.2" y1="876.5" x2="349.2" y2="886.5" stroke="#2a2a2a" stroke-width="0.6"/>
<ellipse cx="349.2" cy="902.5" rx="5.3" ry="4.6" fill="#fff" stroke="#2a2a2a" stroke-width="0.9"/><path d="M344.7,902.5 Q349.2,906.5 353.7,902.5" fill="none" stroke="#2a2a2a" stroke-width="0.7"/><line x1="349.2" y1="897.5" x2="349.2" y2="907.5" stroke="#2a2a2a" stroke-width="0.6"/>
<line x1="349.2" y1="866" x2="349.2" y2="919" stroke="#2a2a2a" stroke-width="0.7" stroke-dasharray="2.5 2"/>
<path d="M360.1,858.8 H382 L384.6,861.7 V924.3 L382,927.2 H360.1 L357.1,924.3 V861.7 Z M361,860.2 V925.8 M382.9,860.2 V925.8 M358.1,862.3 H383.6 M358.1,923.8 H383.6" fill="#fff" stroke="#2a2a2a" stroke-width="1"/>
<path d="M384.6,862.3 H388.6 V923.8 H384.6 M386.6,862.3 V923.8" fill="#fff" stroke="#2a2a2a" stroke-width="0.9"/>
<rect x="388.4" y="855.6" width="6.4" height="74.1" rx="3.2" fill="#fff" stroke="#2a2a2a" stroke-width="1"/>
<rect x="394.8" y="853.2" width="4.5" height="78.8" fill="#fff" stroke="#2a2a2a" stroke-width="1"/>
<path d="M402,842 H422.8 L425.5,846 V937.4 L422.8,941.4 H402 L399.3,937.4 V846 Z M399.3,867 H425.5 M399.3,917 H425.5" fill="#fff" stroke="#2a2a2a" stroke-width="1"/>
<rect x="425.5" y="852.3" width="17.7" height="79.5" fill="#fff" stroke="#2a2a2a" stroke-width="1"/>
<path d="M443.2,858 H583.2 M443.2,925.5 H583.2 M506.8,858 V925.5 M522,858 V925.5 M550.7,858 V925.5" fill="none" stroke="#2a2a2a" stroke-width="1"/>
<line x1="484.1" y1="858.5" x2="484.1" y2="925" stroke="#2a2a2a" stroke-width="0.8"/><path d="M484.1,858.5 L482.5,863.0 L485.70000000000005,863.0 Z M484.1,925 L482.5,920.5 L485.70000000000005,920.5 Z" fill="#2a2a2a"/>
<text transform="translate(479.8,890.5) rotate(-90)" font-size="14.8" text-anchor="middle" textLength="23.5" lengthAdjust="spacingAndGlyphs">ø19</text>
<text transform="translate(496.5,891) rotate(-90)" font-size="14.8" text-anchor="middle" textLength="32.5" lengthAdjust="spacingAndGlyphs">(0,75)</text>
<rect x="583.2" y="840.5" width="6.1" height="102.7" fill="#fff" stroke="#2a2a2a" stroke-width="1"/>
<path d="M589.3,833.6 H610.9 V950 H589.3 Z M589.3,856.4 H610.9 M589.3,869.3 H610.9 M589.3,914.8 H610.9 M589.3,927.3 H610.9" fill="#fff" stroke="#2a2a2a" stroke-width="1"/>
<path d="M610.9,843 Q616,858 621.1,845.5 M610.9,941 Q616,926 621.1,938.6 M612,850 V934" fill="none" stroke="#2a2a2a" stroke-width="1"/>
<rect x="621.1" y="845.5" width="5.3" height="93.1" fill="#fff" stroke="#2a2a2a" stroke-width="1"/>
<line x1="207" y1="892" x2="632" y2="892" stroke="#444" stroke-width="0.8" stroke-dasharray="13 2.5 1.5 2.5"/>
<!-- logo -->
<rect x="663" y="1070" width="11.9" height="5.6" fill="#e3232b"/>
<rect x="636" y="1075.8" width="11.8" height="5.9" fill="#27a8e3"/>
<text x="637.1" y="1075.6" font-size="7" font-weight="bold" textLength="24.5" lengthAdjust="spacing" fill="#1a1a1a">ARGO</text>
<text x="649.9" y="1081.8" font-size="7" font-weight="bold" textLength="25" lengthAdjust="spacing" fill="#1a1a1a">HYTOS</text>
</svg>
</body></html>
